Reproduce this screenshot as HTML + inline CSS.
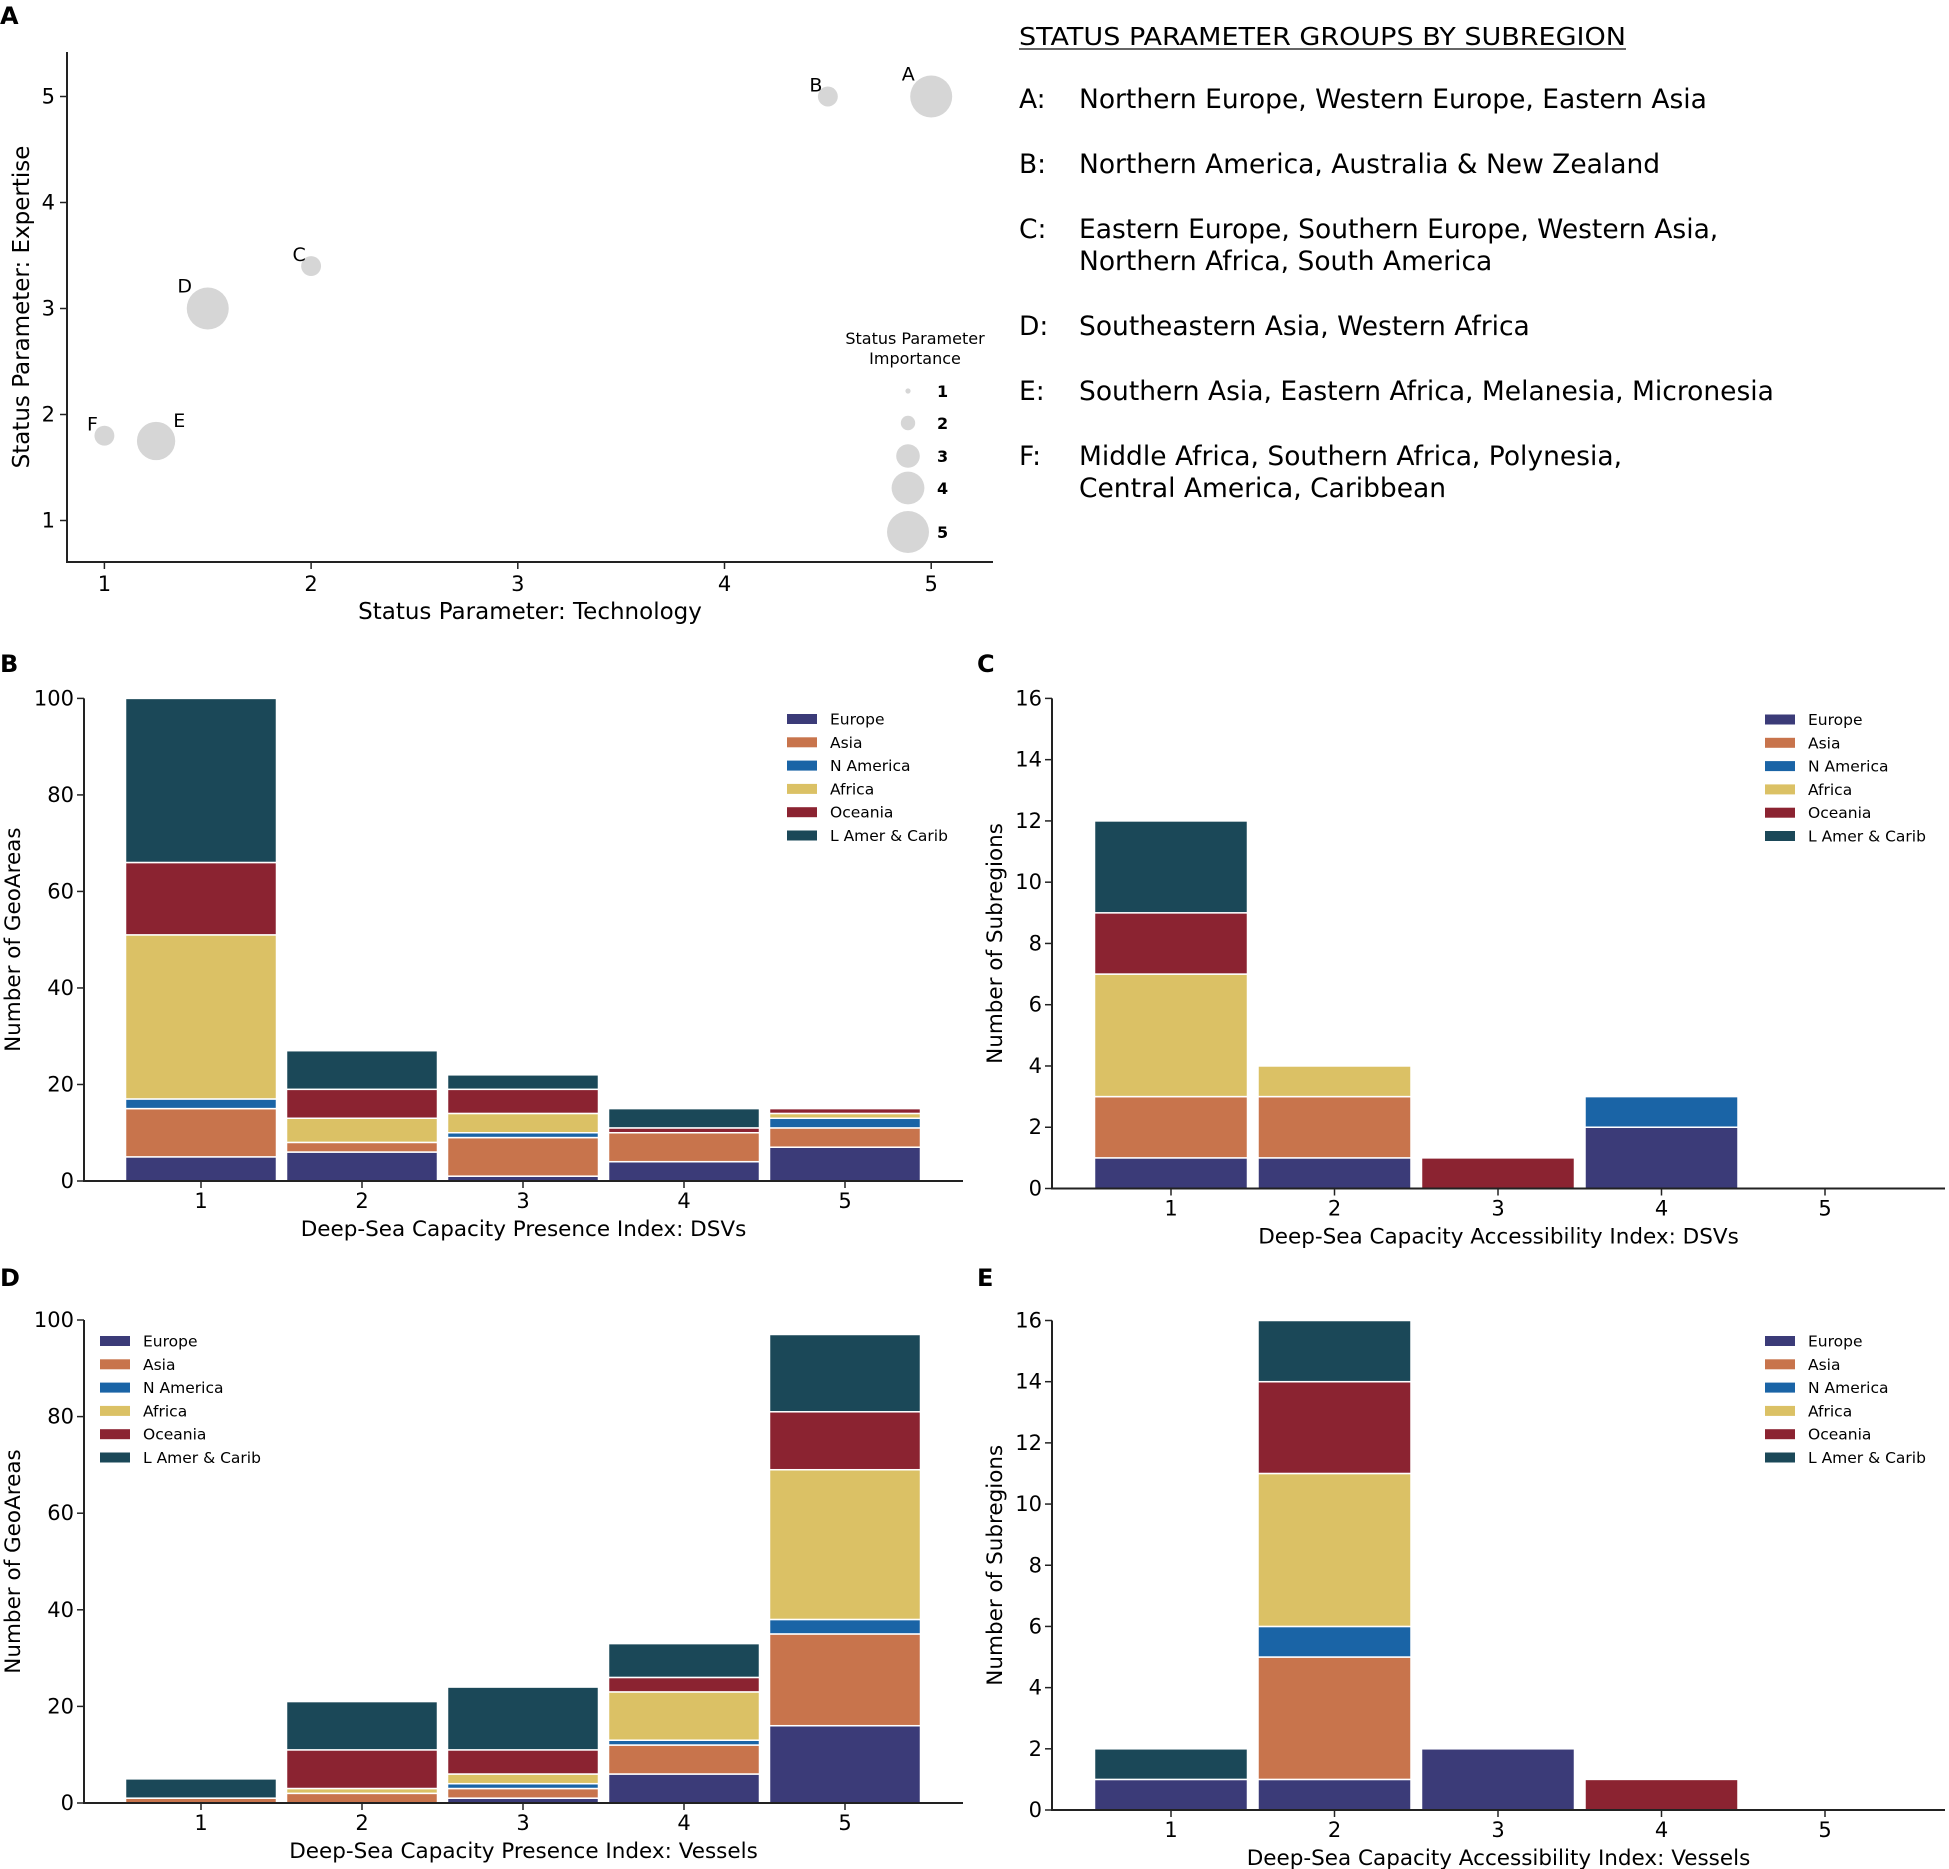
<!DOCTYPE html>
<html><head><meta charset="utf-8"><style>
html,body{margin:0;padding:0;background:#fff;}
svg{display:block;font-family:"DejaVu Sans","Liberation Sans",sans-serif;}
</style></head><body>
<svg id="fig" width="1949" height="1869" viewBox="0 0 1949 1869" xmlns="http://www.w3.org/2000/svg">
<g id="panelA"></g>
<g id="textPanel"></g>
<g id="panelB"></g>
<g id="panelC"></g>
<g id="panelD"></g>
<g id="panelE"></g>
</svg>
<script>
// ---------- Panel A data ----------
const groupLabels = ["A","B","C","D","E","F"];
const techValues = [5, 4.5, 2, 1.5, 1.25, 1];
const expertiseValues = [5, 5, 3.4, 3, 1.75, 1.8];
const importanceValues = [5, 2.6, 2.6, 5, 4.6, 2.6];
const importanceLegend = [1,2,3,4,5];
const tickLabelsA = [1,2,3,4,5];

// ---------- Bar data ----------
const regions = ["Europe","Asia","N America","Africa","Oceania","L Amer & Carib"];
const categories = [1,2,3,4,5];
const regionColors = ["#3b3b78","#c8744c","#1a64a6","#dbc165","#8b2331","#1b4858"];
const bEurope   = [5, 6, 1, 4, 7];
const bAsia     = [10, 2, 8, 6, 4];
const bNAmerica = [2, 0, 1, 0, 2];
const bAfrica   = [34, 5, 4, 0, 1];
const bOceania  = [15, 6, 5, 1, 1];
const bLAmer    = [34, 8, 3, 4, 0];
const cEurope   = [1, 1, 0, 2, 0];
const cAsia     = [2, 2, 0, 0, 0];
const cNAmerica = [0, 0, 0, 1, 0];
const cAfrica   = [4, 1, 0, 0, 0];
const cOceania  = [2, 0, 1, 0, 0];
const cLAmer    = [3, 0, 0, 0, 0];
const dEurope   = [0, 0, 1, 6, 16];
const dAsia     = [1, 2, 2, 6, 19];
const dNAmerica = [0, 0, 1, 1, 3];
const dAfrica   = [0, 1, 2, 10, 31];
const dOceania  = [0, 8, 5, 3, 12];
const dLAmer    = [4, 10, 13, 7, 16];
const eEurope   = [1, 1, 2, 0, 0];
const eAsia     = [0, 4, 0, 0, 0];
const eNAmerica = [0, 1, 0, 0, 0];
const eAfrica   = [0, 5, 0, 0, 0];
const eOceania  = [0, 3, 0, 1, 0];
const eLAmer    = [1, 2, 0, 0, 0];
const ticksGeo = [0,20,40,60,80,100];
const ticksSub = [0,2,4,6,8,10,12,14,16];

const NS="http://www.w3.org/2000/svg";
function mk(parent, tag, attrs, text){
  const el=document.createElementNS(NS,tag);
  for(const k in attrs) el.setAttribute(k, attrs[k]);
  if(text!==undefined) el.textContent=text;
  parent.appendChild(el);
  return el;
}
const AX="#222";

// ---------- Panel A ----------
(function(){
  const g=document.getElementById('panelA');
  const x=v=>104.4+(v-1)*206.7;
  const y=v=>520.5-(v-1)*106;
  const rr=imp=>4.6*imp-2;
  let t=mk(g,'text',{x:0,y:24,'font-size':24,'font-weight':'bold'},'A');
  
  
  let l=mk(g,'line',{x1:67,y1:52,x2:67,y2:562,stroke:AX,'stroke-width':2});
  
  
  l=mk(g,'line',{x1:66,y1:562,x2:993,y2:562,stroke:AX,'stroke-width':2});
  
  
  tickLabelsA.forEach(v=>{
    mk(g,'line',{x1:x(v),y1:562,x2:x(v),y2:569,stroke:AX,'stroke-width':1.5});
    let tx=mk(g,'text',{x:x(v),y:591,'font-size':21,'text-anchor':'middle'},v);
    
    
    mk(g,'line',{x1:60,y1:y(v),x2:67,y2:y(v),stroke:AX,'stroke-width':1.5});
    let ty=mk(g,'text',{x:55,y:y(v)+7,'font-size':21,'text-anchor':'end'},v);
    
    
  });
  t=mk(g,'text',{x:530,y:619,'font-size':23,'text-anchor':'middle'},'Status Parameter: Technology');
  
  
  t=mk(g,'text',{x:0,y:0,'font-size':23,'text-anchor':'middle',transform:'translate(29,307) rotate(-90)'},'Status Parameter: Expertise');
  
  
  groupLabels.forEach((lab,i)=>{
    const cx=x(techValues[i]), cy=y(expertiseValues[i]), r=rr(importanceValues[i]);
    const c=mk(g,'circle',{cx:cx,cy:cy,r:r,fill:'#d6d6d6'});
    
    
    const lx = lab==='E' ? cx+r+4 : cx-r-2;
    const tl=mk(g,'text',{x:lx,y:cy-r+5,'font-size':19,'text-anchor':'middle'},lab);
    
    
  });
  t=mk(g,'text',{x:915,y:344,'font-size':16,'text-anchor':'middle'},'Status Parameter');
  
  
  t=mk(g,'text',{x:915,y:364,'font-size':16,'text-anchor':'middle'},'Importance');
  
  
  const ly=[391,423,456,488,532];
  importanceLegend.forEach((v,i)=>{
    const c=mk(g,'circle',{cx:908,cy:ly[i],r:rr(v),fill:'#d6d6d6'});
    
    
    const tt=mk(g,'text',{x:937,y:ly[i]+6,'font-size':16,'font-weight':'bold'},v);
    
    
  });
})();

// ---------- Text panel ----------
(function(){
  const g=document.getElementById('textPanel');
  let t=mk(g,'text',{x:1019,y:45,'font-size':25,textLength:607,lengthAdjust:'spacingAndGlyphs'},'STATUS PARAMETER GROUPS BY SUBREGION');
  
  
  mk(g,'line',{x1:1019,y1:49,x2:1626,y2:49,stroke:'#333','stroke-width':1.5});
  const rows=[
    ['A:',108,['Northern Europe, Western Europe, Eastern Asia']],
    ['B:',173,['Northern America, Australia & New Zealand']],
    ['C:',238,['Eastern Europe, Southern Europe, Western Asia,','Northern Africa, South America']],
    ['D:',335,['Southeastern Asia, Western Africa']],
    ['E:',400,['Southern Asia, Eastern Africa, Melanesia, Micronesia']],
    ['F:',465,['Middle Africa, Southern Africa, Polynesia,','Central America, Caribbean']]
  ];
  rows.forEach(r=>{
    const a=mk(g,'text',{x:1019,y:r[1],'font-size':26.5},r[0]);
    
    
    r[2].forEach((s,j)=>{
      const b=mk(g,'text',{x:1079,y:r[1]+j*32,'font-size':26.5},s);
      
      
    });
  });
})();

// ---------- Stacked bars ----------
function stacked(id, letter, series, ticks, yMax, ax, xt, yt, legX, legY, xl, xr, tick1, spacing, barW){
  const g=document.getElementById(id);
  const y0=ax.y0, yTop=ax.yTop;
  const y=v=>y0-(v/yMax)*(y0-yTop);
  const x=c=>tick1+(c-1)*spacing;
  let t=mk(g,'text',{x:ax.lx,y:ax.ly,'font-size':24,'font-weight':'bold'},letter);
  
  
  categories.forEach((c,ci)=>{
    let base=0;
    series.forEach((s,si)=>{
      const v=s[ci];
      if(v>0){
        const r=mk(g,'rect',{x:x(c)-barW/2,y:y(base+v),width:barW,height:y(base)-y(base+v),fill:regionColors[si],stroke:'#fff','stroke-width':1.5});
        
        
      }
      base+=v;
    });
  });
  let l=mk(g,'line',{x1:xl,y1:yTop,x2:xl,y2:y0,stroke:AX,'stroke-width':2});
  
  
  l=mk(g,'line',{x1:xl-1,y1:y0,x2:xr,y2:y0,stroke:AX,'stroke-width':2});
  
  
  ticks.forEach(v=>{
    mk(g,'line',{x1:xl-7,y1:y(v),x2:xl,y2:y(v),stroke:AX,'stroke-width':1.5});
    const tt=mk(g,'text',{x:xl-10,y:y(v)+7,'font-size':21,'text-anchor':'end'},v);
    
    
  });
  categories.forEach(c=>{
    mk(g,'line',{x1:x(c),y1:y0,x2:x(c),y2:y0+7,stroke:AX,'stroke-width':1.5});
    const tt=mk(g,'text',{x:x(c),y:y0+27,'font-size':21,'text-anchor':'middle'},c);
    
    
  });
  t=mk(g,'text',{x:(xl+xr)/2,y:y0+55,'font-size':21.5,'text-anchor':'middle'},xt);
  
  
  t=mk(g,'text',{x:0,y:0,'font-size':21.5,'text-anchor':'middle',transform:'translate('+ax.ytx+','+((y0+yTop)/2)+') rotate(-90)'},yt);
  
  
  regions.forEach((rname,i)=>{
    const ry=legY+i*23.3;
    const p=mk(g,'rect',{x:legX,y:ry-5,width:30,height:10,fill:regionColors[i]});
    
    
    const tt=mk(g,'text',{x:legX+43,y:ry+5.5,'font-size':15.5},rname);
    
    
  });
}
stacked('panelB','B',[bEurope,bAsia,bNAmerica,bAfrica,bOceania,bLAmer],ticksGeo,100,
  {y0:1181,yTop:698.4,lx:0,ly:672,ytx:20},'Deep-Sea Capacity Presence Index: DSVs','Number of GeoAreas',
  787,719,84,963,201,161,151);
stacked('panelC','C',[cEurope,cAsia,cNAmerica,cAfrica,cOceania,cLAmer],ticksSub,16,
  {y0:1188.5,yTop:698.4,lx:977,ly:672,ytx:1002},'Deep-Sea Capacity Accessibility Index: DSVs','Number of Subregions',
  1765,719.5,1052,1945,1171,163.5,153);
stacked('panelD','D',[dEurope,dAsia,dNAmerica,dAfrica,dOceania,dLAmer],ticksGeo,100,
  {y0:1803,yTop:1320,lx:0,ly:1286,ytx:20},'Deep-Sea Capacity Presence Index: Vessels','Number of GeoAreas',
  100,1341,84,963,201,161,151);
stacked('panelE','E',[eEurope,eAsia,eNAmerica,eAfrica,eOceania,eLAmer],ticksSub,16,
  {y0:1810,yTop:1320.5,lx:977,ly:1286,ytx:1002},'Deep-Sea Capacity Accessibility Index: Vessels','Number of Subregions',
  1765,1341,1052,1945,1171,163.5,153);
</script>
</body></html>
